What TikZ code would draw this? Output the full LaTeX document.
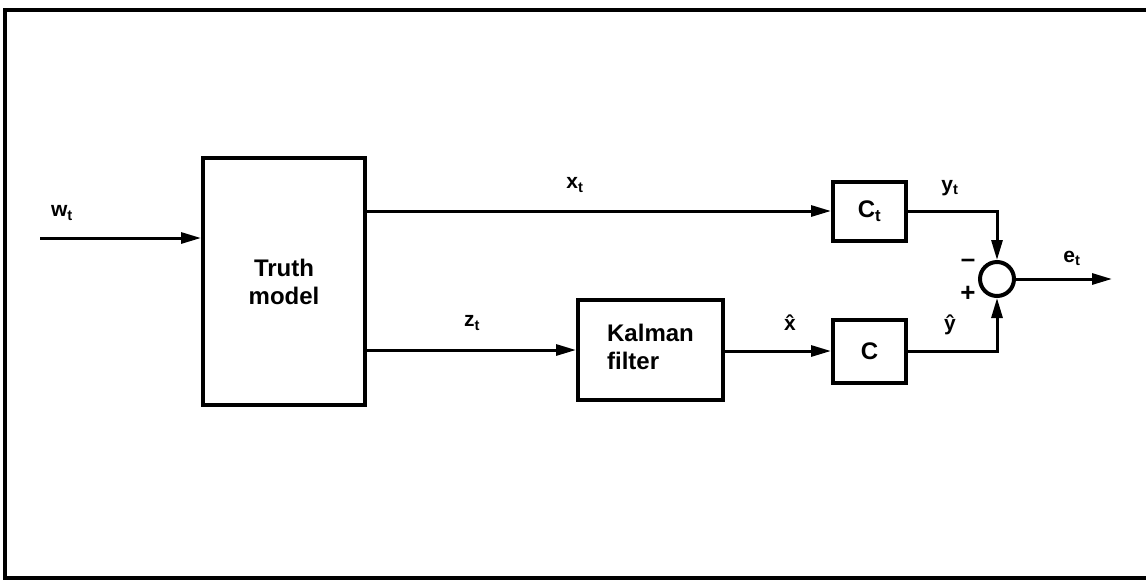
\documentclass[tikz,border=0pt]{standalone}
\usepackage{fontspec}
\setmainfont{Liberation Sans}
\usetikzlibrary{arrows.meta}
\begin{document}
\begin{tikzpicture}[x=1pt,y=-1pt,
  blk/.style={draw,line width=4pt,rectangle,inner sep=0pt,font=\fontsize{24}{28}\selectfont\bfseries,align=center},
  conn/.style={line width=3pt,-{Triangle[length=20pt,width=11pt]}},
  lbl/.style={font=\fontsize{21}{24}\selectfont\bfseries,inner sep=0pt},
  sgn/.style={font=\fontsize{26}{28}\selectfont\bfseries,inner sep=0pt}]
\useasboundingbox (0,0) rectangle (1146,582);
% frame
\draw[line width=3.5pt] (1146,10) -- (5,10) -- (5,578) -- (1146,578);
% blocks
\node[blk,minimum width=162pt,minimum height=247pt] (truth) at (284,281.5) {Truth\\model};
\node[blk,minimum width=145pt,minimum height=100pt] (kal) at (650.5,350) {\begin{tabular}{@{}l@{}}Kalman\\filter\end{tabular}};
\node[blk,minimum width=73pt,minimum height=59pt] (Ct) at (869.5,211) {C\textsubscript{t}};
\node[blk,minimum width=73pt,minimum height=63pt] (C) at (869.5,351) {C};
\node[draw,circle,line width=4pt,minimum size=34pt,inner sep=0pt] (sum) at (997,279) {};
\coordinate (win) at (40,238);
\coordinate (eout) at (1112,279);
% connectors
\draw[conn] (win) -- (win -| truth.west);
\draw[conn] (truth.east |- Ct) -- (Ct.west);
\draw[conn] (truth.east |- kal) -- (kal.west);
\draw[conn] (kal.east |- C) -- (C.west);
\draw[conn] (Ct.east) -| (sum.north);
\draw[conn] (C.east) -| (sum.south);
\draw[conn] (sum.east) -- (eout);
% labels
\node[lbl] (lw) at (62,213) {w\textsubscript{t}};
\node[lbl] (lx) at (575,185) {x\textsubscript{t}};
\node[lbl] (ly) at (950,188) {y\textsubscript{t}};
\node[lbl] (lz) at (472,323) {z\textsubscript{t}};
\node[lbl] (lxh) at (790,323) {\^{x}};
\node[lbl] (lyh) at (950,325) {\^{y}};
\node[lbl] (le) at (1072,258) {e\textsubscript{t}};
\node[sgn] (mn) at (968,263) {\textendash};
\node[sgn] (pl) at (968,294) {+};
\end{tikzpicture}
\end{document}
